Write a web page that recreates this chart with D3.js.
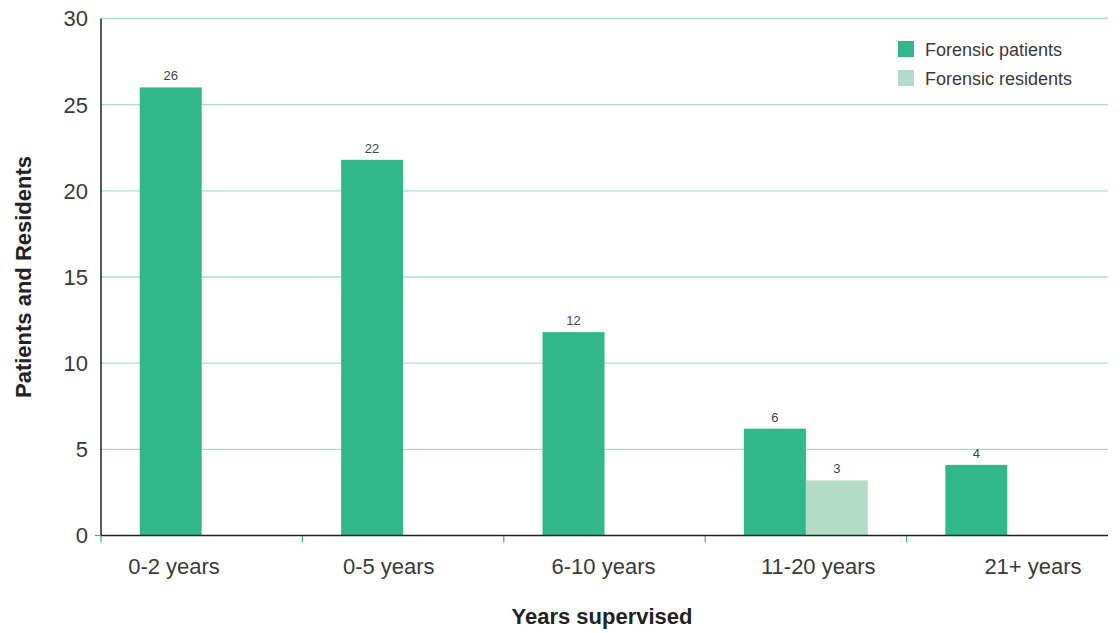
<!DOCTYPE html>
<html>
<head>
<meta charset="utf-8">
<script src="https://cdn.jsdelivr.net/npm/d3@7"></script>
<style>
  body { margin: 0; background: #fff; }
  text { font-family: "Liberation Sans", Arial, sans-serif; }
</style>
</head>
<body>
<svg id="chart" width="1120" height="633"></svg>
<script>
// data
var categories = ["0-2 years", "0-5 years", "6-10 years", "11-20 years", "21+ years"]
var seriesNames = ["Forensic patients", "Forensic residents"]
var patients = [26, 21.8, 11.8, 6.2, 4.1]
var residents = [null, null, null, 3.2, null]
var patientLabels = ["26", "22", "12", "6", "4"]
var residentLabels = ["", "", "", "3", ""]
var yTicks = [0, 5, 10, 15, 20, 25, 30]

var colors = ["#30b88a", "#b2dcc8"]

var svg = d3.select("#chart"),
    margin = {top: 18.5, right: 12, bottom: 97.5, left: 101},
    width = +svg.attr("width") - margin.left - margin.right,
    height = +svg.attr("height") - margin.top - margin.bottom,
    g = svg.append("g").attr("transform", "translate(" + margin.left + "," + margin.top + ")");

var x0 = d3.scaleBand()
    .domain(categories)
    .range([0, width])
    .padding(0)

var x1 = d3.scaleBand()
    .domain([0, 1])
    .range([0, x0.bandwidth()])
    .paddingInner(0)
    .paddingOuter(0.625)

var y = d3.scaleLinear()
    .domain([0, 30])
    .range([height, 0])

// gridlines
g.selectAll(".grid")
  .data(yTicks.filter(function(d) { return d > 0 }))
  .enter().append("line")
    .attr("x1", 0)
    .attr("x2", width)
    .attr("y1", function(d) { return y(d) })
    .attr("y2", function(d) { return y(d) })
    .attr("stroke", "#a9dfc8")
    .attr("stroke-width", 1.3)

// y tick labels
g.selectAll(".ylab")
  .data(yTicks)
  .enter().append("text")
    .attr("x", -13)
    .attr("y", function(d) { return y(d) })
    .attr("dy", "0.36em")
    .attr("text-anchor", "end")
    .attr("font-size", "22px")
    .attr("fill", "#3a3a3a")
    .text(function(d) { return d })

// bars
var rows = categories.map(function(c, i) {
  return {cat: c, vals: [patients[i], residents[i]], labels: [patientLabels[i], residentLabels[i]]}
})

var group = g.selectAll(".grp")
  .data(rows)
  .enter().append("g")
    .attr("transform", function(d) { return "translate(" + x0(d.cat) + ",0)" })

group.selectAll("rect")
  .data(function(d) { return d.vals.map(function(v, k) { return {k: k, v: v} }).filter(function(e) { return e.v != null }) })
  .enter().append("rect")
    .attr("x", function(d) { return x1(d.k) })
    .attr("width", x1.bandwidth())
    .attr("y", function(d) { return y(d.v) })
    .attr("height", function(d) { return y(0) - y(d.v) })
    .attr("fill", function(d) { return colors[d.k] })

group.selectAll(".vlab")
  .data(function(d) { return d.vals.map(function(v, k) { return {k: k, v: v, t: d.labels[k]} }).filter(function(e) { return e.v != null }) })
  .enter().append("text")
    .attr("x", function(d) { return x1(d.k) + x1.bandwidth() / 2 })
    .attr("y", function(d) { return y(d.v) - 7 })
    .attr("text-anchor", "middle")
    .attr("font-size", "13px")
    .attr("fill", "#444")
    .text(function(d) { return d.t })

// axes lines
g.append("line")
  .attr("x1", 0).attr("x2", 0)
  .attr("y1", 0).attr("y2", height)
  .attr("stroke", "#222").attr("stroke-width", 1.5)

g.append("line")
  .attr("x1", -6).attr("x2", 0)
  .attr("y1", height).attr("y2", height)
  .attr("stroke", "#30b88a").attr("stroke-width", 1.2)

g.selectAll(".xtick")
  .data(categories)
  .enter().append("line")
    .attr("x1", function(d) { return x0(d) })
    .attr("x2", function(d) { return x0(d) })
    .attr("y1", height)
    .attr("y2", height + 7)
    .attr("stroke", "#30b88a").attr("stroke-width", 1.2)

g.append("line")
  .attr("x1", 0).attr("x2", width)
  .attr("y1", height).attr("y2", height)
  .attr("stroke", "#222").attr("stroke-width", 1.5)

// category labels sit on a slightly wider spread than the bands
var xl = d3.scalePoint()
    .domain(categories)
    .range([73, 932])

g.selectAll(".xlab")
  .data(categories)
  .enter().append("text")
    .attr("x", function(d) { return xl(d) })
    .attr("y", height + 38)
    .attr("text-anchor", "middle")
    .attr("font-size", "22px")
    .attr("fill", "#3a3a3a")
    .text(function(d) { return d })

// axis titles
svg.append("text")
  .attr("x", 602)
  .attr("y", 624)
  .attr("text-anchor", "middle")
  .attr("font-size", "22px")
  .attr("font-weight", "bold")
  .attr("fill", "#222")
  .text("Years supervised")

svg.append("text")
  .attr("transform", "translate(31,277) rotate(-90)")
  .attr("text-anchor", "middle")
  .attr("font-size", "22px")
  .attr("font-weight", "bold")
  .attr("fill", "#222")
  .text("Patients and Residents")

// legend
var legend = svg.selectAll(".legend")
  .data(seriesNames)
  .enter().append("g")
    .attr("transform", function(d, i) { return "translate(898," + (41 + i * 29) + ")" })

legend.append("rect")
  .attr("width", 16).attr("height", 16)
  .attr("fill", function(d, i) { return colors[i] })

legend.append("text")
  .attr("x", 27)
  .attr("y", 9)
  .attr("dy", "0.35em")
  .attr("font-size", "18px")
  .attr("fill", "#3a3a3a")
  .text(function(d) { return d })
</script>
</body>
</html>
